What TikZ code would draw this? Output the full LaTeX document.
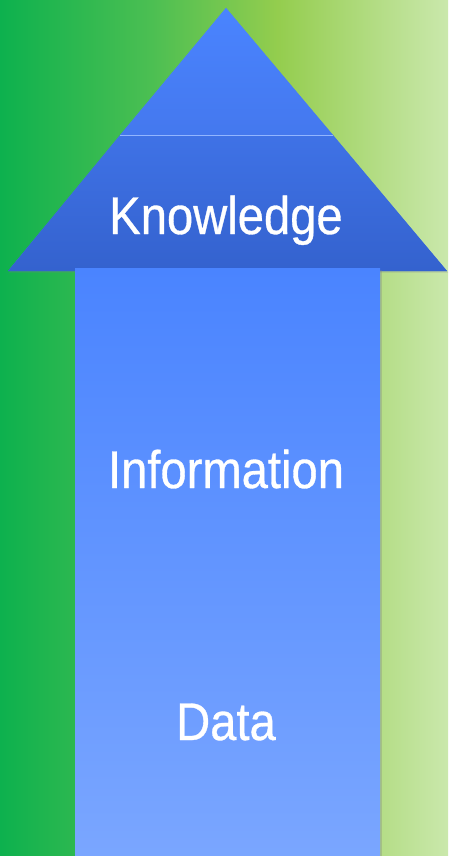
\documentclass[tikz,border=0pt]{standalone}
\usepackage{fontspec}
\setmainfont{Liberation Sans}
\newfontfamily\narrowfont[FakeStretch=0.89, FakeBold=0.6]{Liberation Sans}
\usepackage{xcolor}
\usepackage{tikz}
\usetikzlibrary{shadows}

\definecolor{greenA}{HTML}{0DB14E}
\definecolor{greenB}{HTML}{4CBF52}
\definecolor{greenC}{HTML}{94CD4E}
\definecolor{greenD}{HTML}{CAE8AC}
\definecolor{blueTop}{HTML}{4A84FF}
\definecolor{blueLow}{HTML}{7AA6FF}
\definecolor{blueMid}{HTML}{4478EE}
\definecolor{blueBand}{HTML}{3F72E6}
\definecolor{blueDark}{HTML}{3462CE}

\pgfdeclarehorizontalshading{bggreen}{100bp}{color(0bp)=(greenA); color(25bp)=(greenA); color(42bp)=(greenB); color(56bp)=(greenC); color(75bp)=(greenD); color(100bp)=(greenD)}

\tikzset{
  label/.style={font=\narrowfont\fontsize{53pt}{60pt}\selectfont, text=white, inner sep=0pt, anchor=base},
}

\begin{document}
\begin{tikzpicture}[x=1pt,y=-1pt]
    \useasboundingbox (0,0) rectangle (448,856);
    % Background
    \shade[shading=bggreen] (0,0) rectangle (448,856);

    % Arrow head, upper and lower part
    \shade[top color=blueTop, bottom color=blueMid, drop shadow={opacity=0.25, shadow xshift=1pt, shadow yshift=-1.5pt}]
        (226,8) -- (447,271) -- (8,271) -- cycle;
    \shade[top color=blueTop, bottom color=blueMid] (226,8) -- (333,135) -- (120,135) -- cycle;
    \shade[top color=blueBand, bottom color=blueDark] (120,135) -- (333,135) -- (447,271) -- (8,271) -- cycle;
    \draw[blueTop!60!white, line width=0.6pt] (120,135) -- (333,135);

    % Shaft
    \shade[top color=blueTop, bottom color=blueLow, drop shadow={opacity=0.3, shadow xshift=1.5pt, shadow yshift=-1.5pt}]
        (75,268) rectangle (380,856);

    % Labels
    \node[label] (knowledge) at (226,234) {Knowledge};
    \node[label] (information) at (226,488) {Information};
    \node[label] (data) at (226,740) {Data};
\end{tikzpicture}
\end{document}
